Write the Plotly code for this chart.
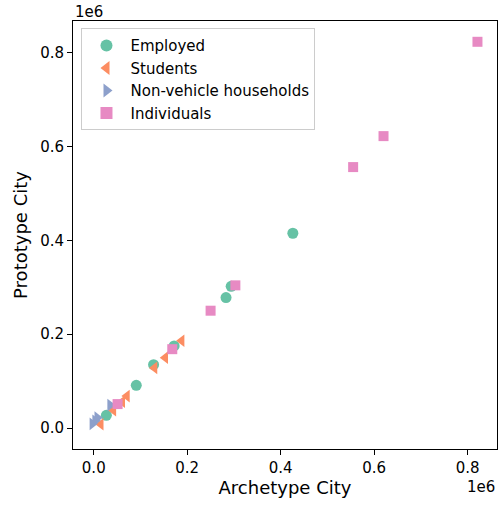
import plotly.graph_objects as go

# Data (raw units)
employed_x = [426000, 294000, 283000, 172000, 128000, 91000, 27000]
employed_y = [415000, 302000, 278000, 175000, 135000, 91000, 27000]

students_x = [188000, 153000, 130000, 71000, 61000, 42000, 15000]
students_y = [186000, 150000, 128000, 68000, 56000, 38000, 8000]

nonveh_x = [35000, 7500, 3000, -3000]
nonveh_y = [49000, 22000, 15500, 9000]

indiv_x = [821000, 620000, 555000, 303000, 250000, 168000, 51000]
indiv_y = [823000, 622000, 556000, 304000, 250000, 168000, 51000]

tick_vals = [0, 200000, 400000, 600000, 800000]
tick_text = ["0.0", "0.2", "0.4", "0.6", "0.8"]

series = [
    ("Employed", employed_x, employed_y, "circle", "#66c2a5", 11),
    ("Students", students_x, students_y, "triangle-left", "#fc8d62", 11),
    ("Non-vehicle households", nonveh_x, nonveh_y, "triangle-right", "#8da0cb", 11),
    ("Individuals", indiv_x, indiv_y, "square", "#e78ac3", 10),
]

fig = go.Figure()
for name, xs, ys, sym, col, sz in series:
    fig.add_trace(go.Scatter(
        x=xs, y=ys, mode="markers", name=name,
        marker=dict(symbol=sym, color=col, size=sz, line=dict(width=0)),
    ))

axis_common = dict(
    showline=True, linecolor="black", linewidth=1, mirror=True,
    ticks="outside", ticklen=5, tickwidth=1, tickcolor="black",
    showgrid=False, zeroline=False, automargin=False,
    tickfont=dict(family="DejaVu Sans", size=15, color="black"),
    tickvals=tick_vals, ticktext=tick_text,
)

fig.update_layout(
    width=499, height=506,
    margin=dict(l=73, r=2, t=21, b=57),
    paper_bgcolor="white", plot_bgcolor="white",
    font=dict(family="DejaVu Sans", color="black"),
    xaxis=dict(range=[-44400, 862800], title=dict(text="Archetype City", font=dict(size=18), standoff=5), **axis_common),
    yaxis=dict(range=[-44700, 867300], title=dict(text="Prototype City", font=dict(size=18), standoff=7), **axis_common),
    legend=dict(
        x=0.02, y=0.983, xanchor="left", yanchor="top",
        bgcolor="rgba(255,255,255,0.8)", bordercolor="#cccccc", borderwidth=1,
        font=dict(family="DejaVu Sans", size=15, color="black"),
        tracegroupgap=0, itemsizing="constant", itemwidth=38,
    ),
    showlegend=True,
    annotations=[
        dict(text="1e6", xref="paper", yref="paper", x=0, y=1, xanchor="left", yanchor="bottom",
             showarrow=False, font=dict(family="DejaVu Sans", size=15, color="black"), yshift=-2),
        dict(text="1e6", xref="paper", yref="paper", x=1, y=0, xanchor="right", yanchor="top",
             showarrow=False, font=dict(family="DejaVu Sans", size=15, color="black"), yshift=-27),
    ],
)

fig.write_html("out.html", config={"displayModeBar": False},
               post_script="document.body.style.margin='0px';document.body.style.overflow='hidden';")
